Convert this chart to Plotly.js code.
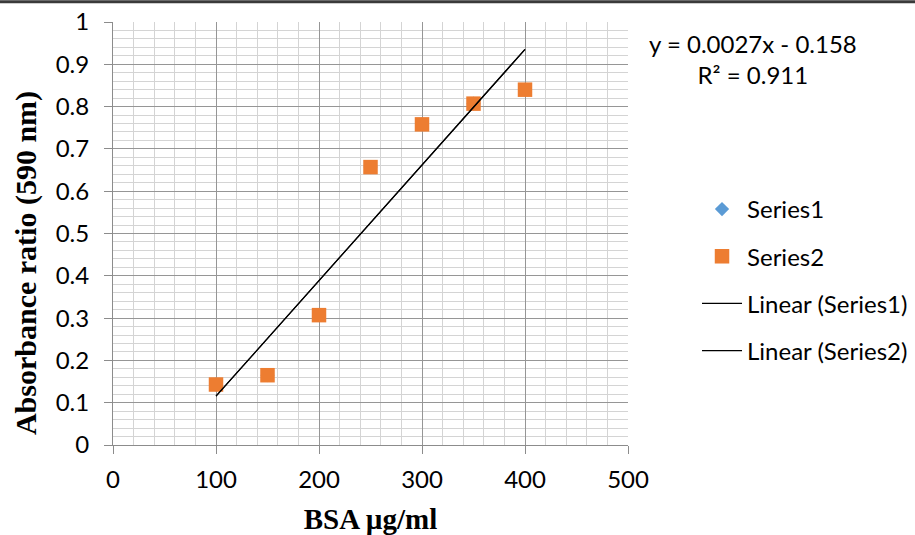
<!DOCTYPE html>
<html><head><meta charset="utf-8">
<script src="https://cdn.plot.ly/plotly-3.0.1.min.js"></script>
<style>html,body{margin:0;padding:0;background:#fff;}#chart{width:915px;height:535px;}</style>
</head><body><div id="chart"></div>
<script>
const bsa = [100, 150, 200, 250, 300, 350, 400];
const series1 = [0.143, 0.165, 0.307, 0.657, 0.758, 0.807, 0.840];
const series2 = [0.143, 0.165, 0.307, 0.657, 0.758, 0.807, 0.840];
const equationText = 'y = 0.0027x - 0.158<br>R² = 0.911';
const xTitle = 'BSA µg/ml';
const yTitle = 'Absorbance ratio (590 nm)';

function linfit(x, y) {
  const n = x.length;
  const mx = x.reduce((a, b) => a + b, 0) / n;
  const my = y.reduce((a, b) => a + b, 0) / n;
  let sxy = 0, sxx = 0;
  for (let i = 0; i < n; i++) { sxy += (x[i] - mx) * (y[i] - my); sxx += (x[i] - mx) ** 2; }
  const m = sxy / sxx, b = my - m * mx;
  const xs = [Math.min(...x), Math.max(...x)];
  return { x: xs, y: xs.map(v => m * v + b) };
}
const fit1 = linfit(bsa, series1);
const fit2 = linfit(bsa, series2);

const font = 'Lato, "Open Sans", sans-serif';
const serif = '"Liberation Serif", "Times New Roman", serif';
const traces = [
  { x: bsa, y: series1, mode: 'markers', type: 'scatter', name: 'Series1', legendgroup: 'a',
    marker: { symbol: 'diamond', size: 11, color: '#5B9BD5' } },
  { x: bsa, y: series2, mode: 'markers', type: 'scatter', name: 'Series2', legendgroup: 'b',
    marker: { symbol: 'square', size: 14.5, color: '#ED7D31' } },
  { x: fit1.x, y: fit1.y, mode: 'lines', type: 'scatter', name: 'Linear (Series1)', legendgroup: 'c',
    line: { color: '#000', width: 1.2 } },
  { x: fit2.x, y: fit2.y, mode: 'lines', type: 'scatter', name: 'Linear (Series2)', legendgroup: 'd',
    line: { color: '#000', width: 1.2 } }
];

const layout = {
  width: 915, height: 535,
  margin: { l: 113, r: 287, t: 22, b: 90, autoexpand: false },
  paper_bgcolor: '#fff', plot_bgcolor: '#fff',
  font: { family: font, size: 24, color: '#000' },
  showlegend: true,
  legend: { x: 1.134, y: 0.61, xanchor: 'left', yanchor: 'top', traceorder: 'grouped', tracegroupgap: 13,
    font: { family: font, size: 24, color: '#000' }, bgcolor: 'rgba(0,0,0,0)', itemwidth: 40 },
  xaxis: {
    range: [0, 500], dtick: 100, tick0: 0, showgrid: true, gridcolor: '#969696', gridwidth: 1,
    zeroline: false, showline: true, linecolor: '#8c8c8c', linewidth: 1, mirror: false,
    ticks: 'outside', ticklen: 8, tickcolor: '#8c8c8c', ticklabelstandoff: 5,
    tickfont: { family: font, size: 24, color: '#000' },
    minor: { dtick: 20, showgrid: true, gridcolor: '#d4d4d4', gridwidth: 1 },
    title: { text: '<b>' + xTitle + '</b>', font: { family: serif, size: 29, color: '#000' }, standoff: 16 }
  },
  yaxis: {
    range: [0, 1], dtick: 0.1, tick0: 0, showgrid: true, gridcolor: '#969696', gridwidth: 1,
    zeroline: false, showline: true, linecolor: '#8c8c8c', linewidth: 1,
    ticks: 'outside', ticklen: 8, tickcolor: '#8c8c8c', ticklabelstandoff: 10,
    tickfont: { family: font, size: 24, color: '#000' },
    minor: { dtick: 0.02, showgrid: true, gridcolor: '#d4d4d4', gridwidth: 1 },
    title: { text: '' }
  },
  annotations: [
    { xref: 'paper', yref: 'paper', x: 1.243, y: 0.9125, xanchor: 'center', yanchor: 'middle', align: 'center',
      showarrow: false, text: equationText, font: { family: font, size: 24, color: '#000' } },
    { xref: 'paper', yref: 'paper', x: -0.169, y: 0.43, xanchor: 'center', yanchor: 'middle', textangle: -90,
      showarrow: false, text: '<b>' + yTitle + '</b>', font: { family: serif, size: 30, color: '#000' } }
  ],
  shapes: [
    { type: 'line', xref: 'paper', yref: 'paper', x0: -0.3, x1: 1.6, y0: 1.048, y1: 1.048,
      line: { color: '#3a3a3a', width: 3 } }
  ]
};

Plotly.newPlot('chart', traces, layout, { displayModeBar: false, staticPlot: true });
</script></body></html>
